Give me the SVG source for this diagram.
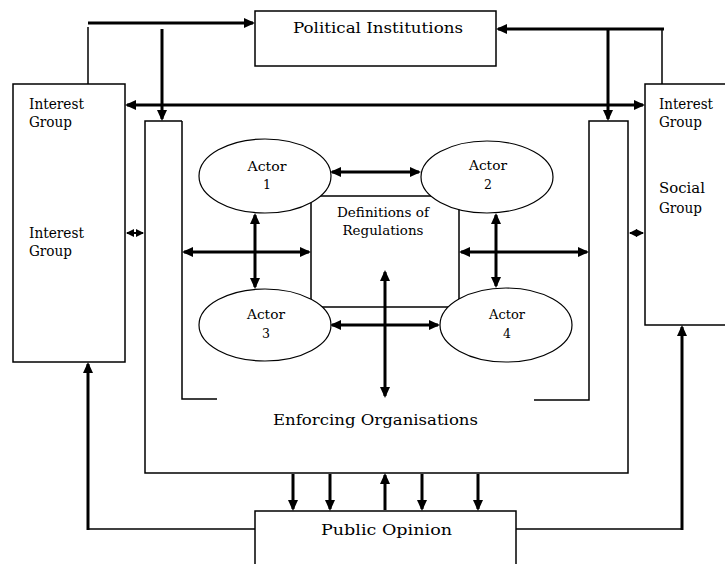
<svg xmlns="http://www.w3.org/2000/svg" width="725" height="564" viewBox="0 0 725 564">
<style>
.box{fill:#fff;stroke:#000;stroke-width:1.5}
.ell{fill:#fff;stroke:#000;stroke-width:1.2}
.thin{fill:none;stroke:#000;stroke-width:1.5}
.thick{fill:none;stroke:#000;stroke-width:3}
.arr{marker-end:url(#ah)}
.darr{marker-start:url(#ah);marker-end:url(#ah)}
.sm{fill:none;stroke:#000;stroke-width:2;marker-start:url(#sh);marker-end:url(#sh)}
text{font-family:"DejaVu Serif","Liberation Serif",serif;fill:#000}
.t15{font-size:15px}
.t13{font-size:12.5px}
.mid{text-anchor:middle}
</style>
<defs>
<marker id="ah" viewBox="0 0 11 10" refX="9" refY="5" markerWidth="11" markerHeight="10" markerUnits="userSpaceOnUse" orient="auto-start-reverse">
<path d="M0,0 L11,5 L0,10 z" fill="#000"/>
</marker>
<marker id="sh" viewBox="0 0 8 8" refX="7" refY="4" markerWidth="8" markerHeight="8" markerUnits="userSpaceOnUse" orient="auto-start-reverse">
<path d="M0,0 L8,4 L0,8 z" fill="#000"/>
</marker>
</defs>
<rect width="725" height="564" fill="#fff"/>

<g id="political-institutions">
<rect class="box" x="255" y="11" width="241" height="55"/>
<text class="t15" x="293" y="33" textLength="170" lengthAdjust="spacingAndGlyphs">Political  Institutions</text>
</g>

<g id="interest-group-left">
<rect class="box" x="13" y="84" width="112" height="278"/>
<text class="t15" x="29" y="109" textLength="55" lengthAdjust="spacingAndGlyphs">Interest</text>
<text class="t15" x="29" y="127" textLength="43" lengthAdjust="spacingAndGlyphs">Group</text>
<text class="t15" x="29" y="238" textLength="55" lengthAdjust="spacingAndGlyphs">Interest</text>
<text class="t15" x="29" y="256" textLength="43" lengthAdjust="spacingAndGlyphs">Group</text>
</g>

<g id="interest-social-group-right">
<rect class="box" x="645" y="84" width="82" height="241"/>
<text class="t15" x="659" y="109" textLength="54" lengthAdjust="spacingAndGlyphs">Interest</text>
<text class="t15" x="659" y="127" textLength="43" lengthAdjust="spacingAndGlyphs">Group</text>
<text class="t15" x="659" y="193" textLength="46" lengthAdjust="spacingAndGlyphs">Social</text>
<text class="t15" x="659" y="213" textLength="43" lengthAdjust="spacingAndGlyphs">Group</text>
</g>

<g id="enforcing-organisations">
<path class="thin" d="M182,121 L145,121 L145,473 L628,473 L628,121 L589,121 L589,400 L534,400"/>
<path class="thin" d="M182,121 L182,399 L217,399"/>
<text class="t15" x="273" y="425" textLength="205" lengthAdjust="spacingAndGlyphs">Enforcing  Organisations</text>
</g>

<g id="definitions-of-regulations">
<rect class="box" x="311" y="196" width="148" height="111"/>
<text class="t13 mid" x="383" y="217" textLength="92" lengthAdjust="spacingAndGlyphs">Definitions of</text>
<text class="t13 mid" x="383" y="235" textLength="81" lengthAdjust="spacingAndGlyphs">Regulations</text>
</g>

<g id="actor-1">
<ellipse class="ell" cx="265" cy="176" rx="66" ry="37"/>
<text class="t13 mid" x="267" y="171" textLength="39" lengthAdjust="spacingAndGlyphs">Actor</text>
<text class="t13 mid" x="267" y="189">1</text>
</g>
<g id="actor-2">
<ellipse class="ell" cx="487" cy="177" rx="66" ry="36"/>
<text class="t13 mid" x="488" y="170" textLength="38" lengthAdjust="spacingAndGlyphs">Actor</text>
<text class="t13 mid" x="488" y="189">2</text>
</g>
<g id="actor-3">
<ellipse class="ell" cx="265" cy="325" rx="66" ry="36"/>
<text class="t13 mid" x="266" y="319" textLength="38" lengthAdjust="spacingAndGlyphs">Actor</text>
<text class="t13 mid" x="266" y="338">3</text>
</g>
<g id="actor-4">
<ellipse class="ell" cx="506" cy="325" rx="66" ry="37"/>
<text class="t13 mid" x="507" y="319" textLength="36" lengthAdjust="spacingAndGlyphs">Actor</text>
<text class="t13 mid" x="507" y="338">4</text>
</g>

<g id="public-opinion">
<rect class="box" x="255" y="511" width="261" height="60"/>
<text class="t15" x="321" y="535" textLength="131" lengthAdjust="spacingAndGlyphs">Public  Opinion</text>
</g>

<g id="connectors">
<line class="thin" x1="88" y1="27" x2="88" y2="84"/>
<line class="thick arr" x1="88" y1="23" x2="253" y2="23"/>
<line class="thick arr" x1="162" y1="29" x2="162" y2="119"/>
<line class="thick arr" x1="664" y1="29" x2="498" y2="29"/>
<line class="thin" x1="662" y1="29" x2="662" y2="84"/>
<line class="thick arr" x1="608" y1="29" x2="608" y2="119"/>
<line class="thick darr" x1="127" y1="105" x2="643" y2="105"/>
<line class="sm" x1="127" y1="233" x2="143" y2="233"/>
<line class="sm" x1="630" y1="233" x2="643" y2="233"/>
<line class="thick darr" x1="332" y1="172" x2="419" y2="172"/>
<line class="thick darr" x1="332" y1="325" x2="438" y2="325"/>
<line class="thick darr" x1="255" y1="215" x2="255" y2="287"/>
<line class="thick darr" x1="496" y1="215" x2="496" y2="286"/>
<line class="thick darr" x1="184" y1="252" x2="309" y2="252"/>
<line class="thick darr" x1="461" y1="252" x2="587" y2="252"/>
<line class="thick darr" x1="385" y1="272" x2="385" y2="396"/>
<line class="thick arr" x1="293" y1="474" x2="293" y2="509"/>
<line class="thick arr" x1="330" y1="474" x2="330" y2="509"/>
<line class="thick arr" x1="385" y1="510" x2="385" y2="475"/>
<line class="thick arr" x1="422" y1="474" x2="422" y2="509"/>
<line class="thick arr" x1="478" y1="474" x2="478" y2="509"/>
<line class="thin" x1="255" y1="529" x2="88" y2="529"/>
<line class="thick arr" x1="88" y1="530" x2="88" y2="364"/>
<line class="thin" x1="516" y1="529" x2="682" y2="529"/>
<line class="thick arr" x1="682" y1="530" x2="682" y2="327"/>
</g>
</svg>
